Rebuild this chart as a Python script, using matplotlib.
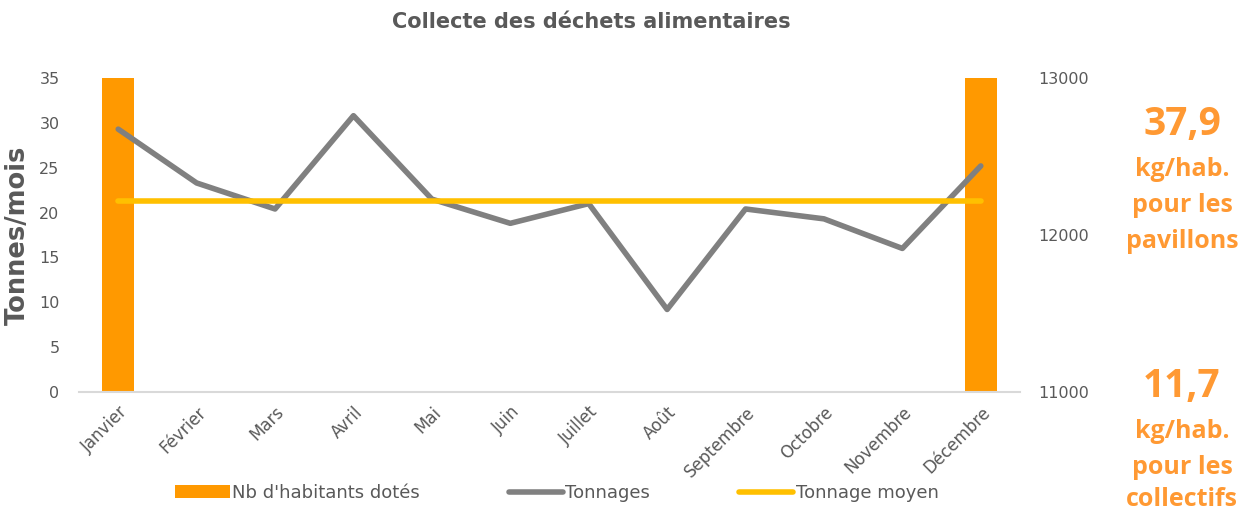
import matplotlib
matplotlib.use("Agg")
import matplotlib.pyplot as plt

# Données
mois = ["Janvier", "Février", "Mars", "Avril", "Mai", "Juin", "Juillet",
        "Août", "Septembre", "Octobre", "Novembre", "Décembre"]
tonnages = [29.3, 23.3, 20.4, 30.8, 21.5, 18.8, 21.0, 9.2, 20.4, 19.3, 16.0, 25.2]
tonnage_moyen = [21.3] * 12
habitants = [13000, 0, 0, 0, 0, 0, 0, 0, 0, 0, 0, 13000]

ORANGE = "#FF9900"
GRIS = "#808080"
JAUNE = "#FFC000"
TEXTE = "#595959"
ORANGE_TXT = "#FF9933"

fig = plt.figure(figsize=(12.38, 5.11), dpi=100)
ax = fig.add_axes([79 / 1238, 1 - 392 / 511, (1020 - 79) / 1238, (392 - 78) / 511])
ax2 = ax.twinx()
ax.set_zorder(ax2.get_zorder() + 1)
ax.patch.set_visible(False)

x = list(range(len(mois)))

# barres sur l'axe secondaire
b = ax2.bar(x, habitants, width=0.41, color=ORANGE, label="Nb d'habitants dotés")
ax2.set_ylim(11000, 13000)
ax2.set_yticks([11000, 12000, 13000])

l1, = ax.plot(x, tonnages, color=GRIS, lw=4, solid_capstyle="round",
              solid_joinstyle="round", label="Tonnages")
l2, = ax.plot(x, tonnage_moyen, color=JAUNE, lw=4, solid_capstyle="round",
              label="Tonnage moyen")

ax.set_xlim(-0.5, 11.5)
ax.set_ylim(0, 35)
ax.set_yticks(range(0, 36, 5))
ax.set_xticks(x)
ax.set_xticklabels(mois, rotation=45, ha="right", va="top", rotation_mode="anchor")

for a in (ax, ax2):
    for s in a.spines.values():
        s.set_visible(False)
    a.tick_params(length=0, labelsize=11.5, labelcolor=TEXTE)
ax.spines["bottom"].set_visible(True)
ax.spines["bottom"].set_color("#D9D9D9")
ax.spines["bottom"].set_linewidth(1.5)
ax.tick_params(axis="y", pad=14)
ax.tick_params(axis="x", pad=8, labelsize=12)
ax2.tick_params(axis="y", pad=13)

ax.set_ylabel("Tonnes/mois", fontsize=18.5, fontweight="bold", color=TEXTE, labelpad=6)

fig.text(591 / 1238, 1 - 22 / 511, "Collecte des déchets alimentaires",
         ha="center", va="center", fontsize=15, fontweight="bold", color=TEXTE)

fig.legend([b, l1, l2], ["Nb d'habitants dotés", "Tonnages", "Tonnage moyen"],
           loc="center", bbox_to_anchor=(557 / 1238, 1 - 493 / 511), ncol=3,
           frameon=False, fontsize=13, handlelength=3.0, handletextpad=0.15,
           columnspacing=4.9, labelcolor=TEXTE)

# textes à droite
cx = 1182 / 1238
blocs = [("37,9", 125, 28), ("kg/hab.", 170, 18), ("pour les", 206, 18), ("pavillons", 241, 18),
         ("11,7", 386, 28), ("kg/hab.", 432, 18), ("pour les", 467, 18), ("collectifs", 500, 18)]
for txt, y, fs in blocs:
    fig.text(cx, 1 - y / 511, txt, ha="center", va="center", fontsize=fs,
             fontweight="bold", color=ORANGE_TXT, family="Open Sans")

fig.savefig("out.png", dpi=100)
